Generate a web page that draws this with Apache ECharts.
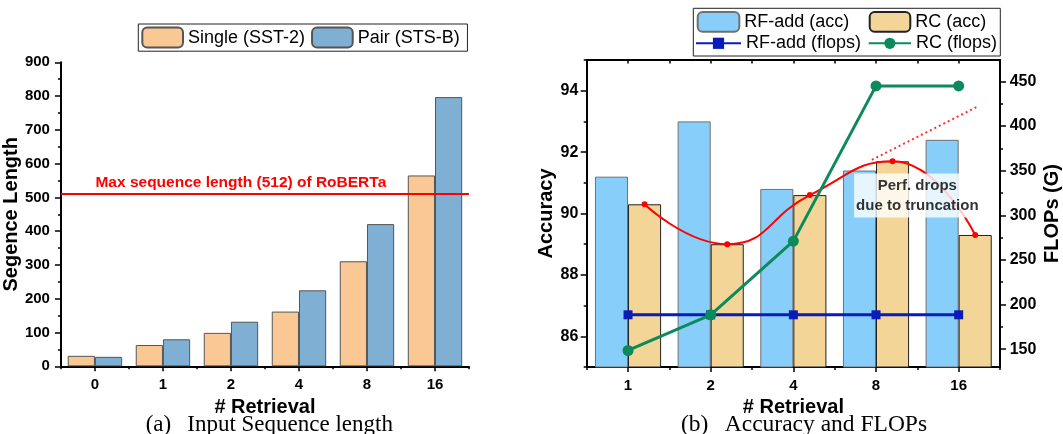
<!DOCTYPE html>
<html><head><meta charset="utf-8">
<script src="https://cdn.jsdelivr.net/npm/echarts@6/dist/echarts.min.js"></script>
<style>html,body{margin:0;padding:0;background:#fff}#c{width:1063px;height:434px}</style>
</head><body><div id="c"></div>
<script>
// ---------- data: (a) Input sequence length ----------
const retrievalA = ['0', '1', '2', '4', '8', '16'];
const singleSST2 = [31, 63, 99, 162, 311, 565];
const pairSTSB = [28, 80, 132, 225, 421, 797];
const maxSeqLen = 512;
const maxSeqLabel = 'Max sequence length (512) of RoBERTa';

// ---------- data: (b) Accuracy and FLOPs ----------
const retrievalB = ['1', '2', '4', '8', '16'];
const rfAddAcc = [91.2, 93.0, 90.8, 91.4, 92.4];
const rcAcc = [90.3, 89.0, 90.6, 91.7, 89.3];
const rfAddFlops = [188.5, 188.5, 188.5, 188.5, 188.5];
const rcFlops = [148.5, 188.5, 271, 445, 445];
const accLabels = [86, 88, 90, 92, 94];
const accMinor = [85, 87, 89, 91, 93, 95];
const flopsLabels = [150, 200, 250, 300, 350, 400, 450];
const flopsMinor = [175, 225, 275, 325, 375, 425];
// dotted "expected" trend, x in category-width units from the left edge
const trendX = [3.45, 4.74];
const trendY = [91.75, 93.5];
const noteText = 'Perf. drops\ndue to truncation';
const noteX = 4.0, noteY = 90.59;

const SANS = '"Liberation Sans", Arial, sans-serif';
const SERIF = '"Liberation Serif", "Times New Roman", serif';
const BAR_GAP_CAT = 0.2;               // barCategoryGap fraction
const halfBar = (1 - BAR_GAP_CAT) / 4; // center offset of 2nd bar in a pair

const axisLineS = {show: true, lineStyle: {color: '#000', width: 2}};
const tickS = (len, inside) => ({show: true, length: len, inside: !!inside, lineStyle: {color: '#000', width: 1.5}});
const lblS = (size, margin) => ({fontFamily: SANS, fontWeight: 'bold', fontSize: size, color: '#000', margin: margin});
const nameS = (size) => ({fontFamily: SANS, fontWeight: 'bold', fontSize: size, color: '#000'});

const chart = echarts.init(document.getElementById('c'), null, {renderer: 'canvas'});

const option = {
  backgroundColor: '#fff',
  animation: false,
  grid: [
    {left: 60.5, top: 62.3, width: 408.5, height: 304},
    {left: 586.7, top: 60, width: 414.3, height: 307}
  ],
  legend: [
    {left: 138.3, top: 24, itemWidth: 40.7, itemHeight: 20, itemGap: 6,
     padding: [2.6, 7.7, 2.6, 3], borderColor: '#222', borderWidth: 1,
     textStyle: {fontFamily: SANS, fontSize: 18, color: '#000'},
     data: ['Single (SST-2)', 'Pair (STS-B)']},
    {left: 696.7, top: 11, padding: 0, itemWidth: 41.6, itemHeight: 19.7,
     textStyle: {fontFamily: SANS, fontSize: 18, color: '#000'}, data: ['RF-add (acc)']},
    {left: 868.7, top: 11, padding: 0, itemWidth: 40.6, itemHeight: 19.7,
     textStyle: {fontFamily: SANS, fontSize: 18, color: '#000'}, data: ['RC (acc)']},
    {left: 695, top: 34.3, padding: 0, itemWidth: 45, itemHeight: 14,
     textStyle: {fontFamily: SANS, fontSize: 18, color: '#000'}, data: ['RF-add (flops)']},
    {left: 867.7, top: 34.3, padding: 0, itemWidth: 42.3, itemHeight: 14,
     textStyle: {fontFamily: SANS, fontSize: 18, color: '#000'}, data: ['RC (flops)']}
  ],
  xAxis: [
    // 0: (a) categories, ticks at centres
    {gridIndex: 0, type: 'category', data: retrievalA, position: 'bottom',
     axisLine: axisLineS, axisTick: Object.assign(tickS(5), {alignWithLabel: true}),
     axisLabel: lblS(15, 11), splitLine: {show: false},
     name: '# Retrieval', nameLocation: 'middle', nameGap: 28, nameTextStyle: nameS(20)},
    // 1: (a) boundary minor ticks
    {gridIndex: 0, type: 'category', data: retrievalA, position: 'bottom',
     axisLine: {show: false}, axisTick: tickS(3), axisLabel: {show: false}, splitLine: {show: false}},
    // 2: (b) categories
    {gridIndex: 1, type: 'category', data: retrievalB, position: 'bottom',
     axisLine: axisLineS, axisTick: Object.assign(tickS(5), {alignWithLabel: true}),
     axisLabel: lblS(15, 11), splitLine: {show: false},
     name: '# Retrieval', nameLocation: 'middle', nameGap: 29, nameTextStyle: nameS(20)},
    // 3: (b) boundary minor ticks
    {gridIndex: 1, type: 'category', data: retrievalB, position: 'bottom',
     axisLine: {show: false}, axisTick: tickS(3), axisLabel: {show: false}, splitLine: {show: false}},
    // 4: (b) continuous top axis (frame + half-category ticks), used for offset marks
    {gridIndex: 1, type: 'value', min: 0, max: retrievalB.length, interval: 0.5, position: 'top',
     axisLine: axisLineS, axisTick: tickS(3.5, true), axisLabel: {show: false}, splitLine: {show: false}}
  ],
  yAxis: [
    // 0: (a) sequence length
    {gridIndex: 0, type: 'value', min: 0, max: 900, interval: 100,
     axisLine: axisLineS, axisTick: tickS(6),
     minorTick: {show: true, splitNumber: 2, length: 3, lineStyle: {color: '#000', width: 1.5}},
     axisLabel: lblS(15, 11), splitLine: {show: false}, minorSplitLine: {show: false},
     name: 'Segence Length', nameLocation: 'middle', nameGap: 35.5, nameTextStyle: nameS(20)},
    // 1: (b) accuracy
    {gridIndex: 1, type: 'value', min: 85, max: 95, position: 'left',
     axisLine: axisLineS,
     axisTick: Object.assign(tickS(6), {customValues: accLabels}),
     axisLabel: Object.assign(lblS(16, 8.4), {customValues: accLabels}),
     splitLine: {show: false},
     name: 'Accuracy', nameLocation: 'middle', nameGap: 24, nameTextStyle: nameS(20)},
    // 2: (b) FLOPs
    {gridIndex: 1, type: 'value', min: 130, max: 474, position: 'right',
     axisLine: axisLineS,
     axisTick: Object.assign(tickS(6), {customValues: flopsLabels}),
     axisLabel: Object.assign(lblS(16, 9.7), {customValues: flopsLabels}),
     splitLine: {show: false},
     name: 'FLOPs (G)', nameLocation: 'middle', nameGap: 42, nameTextStyle: nameS(20)},
    // 3, 4: minor ticks
    {gridIndex: 1, type: 'value', min: 85, max: 95, position: 'left',
     axisLine: {show: false}, axisTick: Object.assign(tickS(3), {customValues: accMinor}),
     axisLabel: {show: false}, splitLine: {show: false}},
    {gridIndex: 1, type: 'value', min: 130, max: 474, position: 'right',
     axisLine: {show: false}, axisTick: Object.assign(tickS(3), {customValues: flopsMinor}),
     axisLabel: {show: false}, splitLine: {show: false}}
  ],
  series: [
    {name: 'max-line', type: 'line', xAxisIndex: 0, yAxisIndex: 0, data: [], z: 1,
     markLine: {silent: true, symbol: 'none', animation: false,
       data: [{yAxis: maxSeqLen}],
       lineStyle: {color: '#ff0000', width: 2, type: 'solid'},
       label: {show: true, position: 'insideStartTop', formatter: maxSeqLabel, color: '#ff0000',
         fontFamily: SANS, fontWeight: 'bold', fontSize: 15.5, distance: [34.5, 3]}}},
    {name: 'Single (SST-2)', type: 'bar', xAxisIndex: 0, yAxisIndex: 0, data: singleSST2, z: 2,
     barGap: '0%', barCategoryGap: (BAR_GAP_CAT * 100) + '%',
     itemStyle: {color: '#F9C894', borderColor: '#555', borderWidth: 1}},
    {name: 'Pair (STS-B)', type: 'bar', xAxisIndex: 0, yAxisIndex: 0, data: pairSTSB, z: 2,
     barGap: '0%', barCategoryGap: (BAR_GAP_CAT * 100) + '%',
     itemStyle: {color: '#80AFD4', borderColor: '#555', borderWidth: 1}},

    {name: 'RF-add (acc)', type: 'bar', xAxisIndex: 2, yAxisIndex: 1, data: rfAddAcc, z: 2,
     barGap: '0%', barCategoryGap: (BAR_GAP_CAT * 100) + '%',
     itemStyle: {color: '#87CEFA', borderColor: '#707070', borderWidth: 1}},
    {name: 'RC (acc)', type: 'bar', xAxisIndex: 2, yAxisIndex: 1, data: rcAcc, z: 2,
     barGap: '0%', barCategoryGap: (BAR_GAP_CAT * 100) + '%',
     itemStyle: {color: '#F2D597', borderColor: '#222', borderWidth: 1}},
    {name: 'RC acc trend', type: 'line', xAxisIndex: 4, yAxisIndex: 1, z: 3,
     data: rcAcc.map((v, i) => [i + 0.5 + halfBar, v]),
     smooth: 0.5, symbol: 'circle', symbolSize: 6,
     itemStyle: {color: '#ff0000'}, lineStyle: {color: '#ff0000', width: 2}},
    {name: 'expected trend', type: 'line', xAxisIndex: 4, yAxisIndex: 1, z: 3,
     data: trendX.map((x, i) => [x, trendY[i]]), symbol: 'none',
     lineStyle: {color: '#ff3030', width: 2, type: [2, 3]}},
    {name: 'RF-add (flops)', type: 'line', xAxisIndex: 2, yAxisIndex: 2, data: rfAddFlops, z: 4,
     symbol: 'rect', symbolSize: 9,
     itemStyle: {color: '#0A1CB8'}, lineStyle: {color: '#0A1CB8', width: 3}},
    {name: 'RC (flops)', type: 'line', xAxisIndex: 2, yAxisIndex: 2, data: rcFlops, z: 5,
     symbol: 'circle', symbolSize: 11,
     itemStyle: {color: '#0B8A5C'}, lineStyle: {color: '#0B8A5C', width: 3}},
    {name: 'note', type: 'scatter', xAxisIndex: 4, yAxisIndex: 1, z: 10,
     data: [[noteX, noteY]], symbolSize: 1, itemStyle: {color: 'rgba(0,0,0,0)'},
     label: {show: true, position: 'inside', formatter: noteText, color: '#000',
       fontFamily: SANS, fontWeight: 'bold', fontSize: 15, lineHeight: 20,
       backgroundColor: '#fff', padding: [2, 2]}}
  ],
  graphic: [
    {type: 'rect', shape: {x: 693.3, y: 8.3, width: 307, height: 47.7},
     style: {fill: 'none', stroke: '#222', lineWidth: 1}, z: 100},
    {type: 'text', x: 269.3, y: 425, style: {text: '(a)\u2002\u2009Input Sequence length',
     font: '23px ' + SERIF, fill: '#000', textAlign: 'center', textVerticalAlign: 'middle'}},
    {type: 'text', x: 804, y: 425, style: {text: '(b)\u2002\u2009Accuracy and FLOPs',
     font: '23.5px ' + SERIF, fill: '#000', textAlign: 'center', textVerticalAlign: 'middle'}}
  ]
};
chart.setOption(option);
</script>
</body></html>
